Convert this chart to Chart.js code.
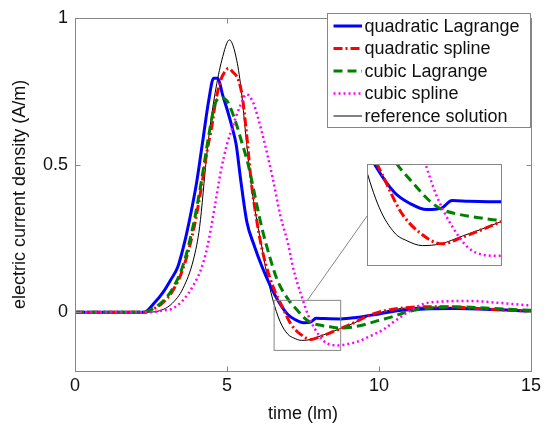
<!DOCTYPE html>
<html>
<head>
<meta charset="utf-8">
<script src="https://cdn.jsdelivr.net/npm/chart.js@4.4.0/dist/chart.umd.min.js"></script>
<style>
  html, body { margin: 0; padding: 0; background: #fff; }
  #wrap { position: relative; width: 545px; height: 425px; }
  #main { position: absolute; left: 0; top: 0; }
  #inset { position: absolute; left: 367px; top: 164px; }
</style>
</head>
<body>
<div id="wrap">
  <canvas id="main" width="545" height="425"></canvas>
  <canvas id="inset" width="135" height="102"></canvas>
</div>
<script>
// ── data ─────────────────────────────────────────────────────────
const seriesNames = ["quadratic Lagrange", "quadratic spline", "cubic Lagrange", "cubic spline", "reference solution"];

const qlTime  = [0, 2.28, 2.6, 2.9, 3.15, 3.38, 3.6, 3.8, 4.0, 4.2, 4.4, 4.56, 4.7, 4.85, 5.0, 5.15, 5.3, 5.45, 5.65, 5.9, 6.15, 6.4, 6.7, 7.0, 7.25, 7.52, 7.75, 7.93, 8.2, 8.75, 9.25, 10.0, 10.75, 11.5, 12.5, 13.5, 15];
const qlValue = [0, 0, 0.03, 0.068, 0.11, 0.153, 0.235, 0.33, 0.44, 0.58, 0.72, 0.795, 0.795, 0.74, 0.69, 0.635, 0.57, 0.45, 0.308, 0.225, 0.155, 0.095, 0.035, -0.008, -0.026, -0.036, -0.034, -0.021, -0.022, -0.023, -0.018, -0.006, 0.006, 0.011, 0.012, 0.01, 0.003];

const qsTime  = [0, 2.3, 2.6, 2.9, 3.2, 3.55, 3.9, 4.15, 4.35, 4.5, 4.62, 4.8, 4.95, 5.05, 5.2, 5.37, 5.5, 5.65, 5.8, 5.95, 6.15, 6.4, 6.6, 6.8, 7.1, 7.4, 7.77, 8.1, 8.4, 8.75, 9.2, 9.6, 10.0, 10.4, 11.0, 11.6, 12.2, 13.0, 14.0, 15];
const qsValue = [0, 0, 0.012, 0.033, 0.07, 0.147, 0.28, 0.42, 0.55, 0.63, 0.712, 0.79, 0.82, 0.828, 0.815, 0.79, 0.735, 0.6, 0.44, 0.33, 0.215, 0.12, 0.065, 0.022, -0.04, -0.074, -0.093, -0.082, -0.07, -0.055, -0.035, -0.014, 0.0, 0.009, 0.016, 0.018, 0.018, 0.014, 0.008, 0.003];

const clTime  = [0, 2.3, 2.6, 2.9, 3.2, 3.55, 3.9, 4.15, 4.4, 4.6, 4.78, 5.0, 5.15, 5.32, 5.45, 5.7, 5.95, 6.15, 6.4, 6.65, 7.0, 7.3, 7.55, 7.75, 8.0, 8.4, 8.75, 9.1, 9.6, 10.0, 10.4, 10.9, 11.5, 12.5, 13.5, 15];
const clValue = [0, 0, 0.014, 0.038, 0.078, 0.158, 0.30, 0.44, 0.60, 0.705, 0.729, 0.718, 0.685, 0.635, 0.59, 0.50, 0.38, 0.285, 0.19, 0.11, 0.045, 0.008, -0.02, -0.035, -0.043, -0.05, -0.054, -0.051, -0.04, -0.028, -0.017, 0.0, 0.012, 0.018, 0.014, 0.006];

const csTime  = [0, 2.5, 2.9, 3.2, 3.55, 3.9, 4.15, 4.35, 4.6, 4.8, 5.0, 5.2, 5.43, 5.64, 5.86, 6.03, 6.2, 6.5, 6.75, 7.0, 7.2, 7.44, 7.66, 7.88, 8.2, 8.65, 9.0, 9.3, 9.7, 10.16, 10.5, 10.92, 11.46, 12.1, 13.0, 14.0, 15];
const csValue = [0, 0, 0.006, 0.012, 0.04, 0.092, 0.147, 0.22, 0.36, 0.48, 0.57, 0.635, 0.70, 0.74, 0.712, 0.657, 0.59, 0.457, 0.33, 0.236, 0.14, 0.059, -0.008, -0.055, -0.1, -0.113, -0.108, -0.1, -0.082, -0.058, -0.032, -0.002, 0.028, 0.036, 0.038, 0.031, 0.022];

const refTime  = [0, 2.45, 2.9, 3.2, 3.55, 3.9, 4.1, 4.33, 4.45, 4.61, 4.83, 5.08, 5.32, 5.48, 5.6, 5.8, 6.0, 6.15, 6.3, 6.5, 6.75, 7.0, 7.2, 7.45, 7.75, 8.1, 8.4, 8.75, 9.2, 9.6, 10.0, 10.5, 11.0, 11.6, 12.2, 13.0, 14.0, 15];
const refValue = [0, 0, 0.009, 0.03, 0.08, 0.18, 0.29, 0.53, 0.635, 0.745, 0.856, 0.925, 0.856, 0.745, 0.62, 0.43, 0.30, 0.22, 0.135, 0.045, -0.033, -0.075, -0.088, -0.096, -0.093, -0.08, -0.069, -0.055, -0.036, -0.016, -0.002, 0.009, 0.015, 0.017, 0.017, 0.013, 0.007, 0.003];

const xTicks = [0, 5, 10, 15];
const yTicks = [0, 0.5, 1];
const zoomTime  = [6.55, 8.74];   // magnified window
const zoomValue = [-0.13, 0.04];

// ── styling ──────────────────────────────────────────────────────
const FONT   = "'Liberation Sans', Arial, Helvetica, sans-serif";
const FS     = 18;
const AXIS   = "#868686";
const TEXT   = "#111";
const INSET  = { left: 367, top: 164, w: 135, h: 102 };

const styles = [
  { color: "#0000ff", width: 3,   dash: [],            order: 4 },
  { color: "#ff0000", width: 3,   dash: [9, 3, 2, 3],  order: 3 },
  { color: "#008000", width: 3,   dash: [9, 5],        order: 2 },
  { color: "#ff00ff", width: 2.5, dash: [2, 3],        order: 1 },
  { color: "#000000", width: 1,   dash: [],            order: 5 },
];

const pairs = [[qlTime, qlValue], [qsTime, qsValue], [clTime, clValue], [csTime, csValue], [refTime, refValue]];

function makeDatasets() {
  return pairs.map(([t, v], i) => ({
    label: seriesNames[i],
    data: t.map((x, k) => ({ x, y: v[k] })),
    borderColor: styles[i].color,
    borderWidth: styles[i].width,
    borderDash: styles[i].dash,
    order: styles[i].order,
    pointRadius: 0,
    fill: false,
    cubicInterpolationMode: "monotone",
  }));
}

// frame, inward ticks, zoom window, connector, legend
const decorations = {
  id: "decorations",
  afterDraw(chart) {
    const { ctx, chartArea: a, scales: { x, y } } = chart;
    const seg = (x1, y1, x2, y2) => { ctx.beginPath(); ctx.moveTo(x1, y1); ctx.lineTo(x2, y2); ctx.stroke(); };
    ctx.save();
    ctx.strokeStyle = AXIS;
    ctx.lineWidth = 1;
    ctx.setLineDash([]);
    const L = Math.round(a.left) + 0.5, R = Math.round(a.right) + 0.5;
    const T = Math.round(a.top) + 0.5,  B = Math.round(a.bottom) + 0.5;
    ctx.strokeRect(L, T, R - L, B - T);
    xTicks.forEach(v => {
      const p = Math.round(x.getPixelForValue(v)) + 0.5;
      seg(p, B, p, B - 5); seg(p, T, p, T + 5);
    });
    yTicks.forEach(v => {
      const p = Math.round(y.getPixelForValue(v)) + 0.5;
      seg(L, p, L + 5, p); seg(R, p, R - 5, p);
    });

    // magnified window + connector to inset
    const zx1 = x.getPixelForValue(zoomTime[0]), zx2 = x.getPixelForValue(zoomTime[1]);
    const zy1 = y.getPixelForValue(zoomValue[1]), zy2 = y.getPixelForValue(zoomValue[0]);
    ctx.strokeRect(zx1, zy1, zx2 - zx1, zy2 - zy1);
    seg((zx1 + zx2) / 2, zy1, INSET.left, INSET.top + INSET.h / 2 + 1);

    // legend
    const lx = 327.5, ly = 13.5, lw = 203, lh = 114;
    ctx.fillStyle = "#fff";
    ctx.fillRect(lx, ly, lw, lh);
    ctx.strokeStyle = AXIS;
    ctx.strokeRect(lx, ly, lw, lh);
    ctx.font = FS + "px " + FONT;
    ctx.textBaseline = "middle";
    ctx.textAlign = "left";
    chart.data.datasets.forEach((d, i) => {
      const cy = 26 + i * 22.5;
      ctx.strokeStyle = d.borderColor;
      ctx.lineWidth = d.borderWidth;
      ctx.setLineDash(d.borderDash);
      seg(333.5, cy, 362, cy);
      ctx.setLineDash([]);
      ctx.fillStyle = TEXT;
      ctx.fillText(d.label, 364.5, cy + 1);
    });
    ctx.restore();
  },
};

new Chart(document.getElementById("main"), {
  type: "line",
  data: { datasets: makeDatasets() },
  options: {
    responsive: false,
    animation: false,
    events: [],
    layout: { padding: { top: 10, right: 10, left: 0, bottom: 0 } },
    plugins: { legend: { display: false }, tooltip: { enabled: false } },
    scales: {
      x: {
        type: "linear", min: 0, max: 15,
        afterBuildTicks: s => { s.ticks = xTicks.map(v => ({ value: v })); },
        afterFit: s => { s.height = 54; },
        grid: { display: false, drawTicks: false }, border: { display: false },
        ticks: { color: TEXT, font: { family: FONT, size: FS }, padding: 4, maxRotation: 0 },
        title: { display: true, text: "time (lm)", color: TEXT, font: { family: FONT, size: FS }, padding: { top: 0, bottom: 0 } },
      },
      y: {
        type: "linear", min: -0.2, max: 1,
        afterBuildTicks: s => { s.ticks = yTicks.map(v => ({ value: v })); },
        afterFit: s => { s.width = 75; },
        grid: { display: false, drawTicks: false }, border: { display: false },
        ticks: { color: TEXT, font: { family: FONT, size: FS }, padding: 7, callback: v => String(v) },
        title: { display: true, text: "electric current density (A/m)", color: TEXT, font: { family: FONT, size: FS }, padding: { top: 9, bottom: 0 } },
      },
    },
  },
  plugins: [decorations],
});

// ── magnified inset ──────────────────────────────────────────────
const insetFrame = {
  id: "insetFrame",
  beforeDraw(chart) {
    const { ctx, width, height } = chart;
    ctx.save(); ctx.fillStyle = "#fff"; ctx.fillRect(0, 0, width, height); ctx.restore();
  },
  afterDraw(chart) {
    const { ctx, width, height } = chart;
    ctx.save(); ctx.strokeStyle = AXIS; ctx.lineWidth = 1; ctx.setLineDash([]);
    ctx.strokeRect(0.5, 0.5, width - 1, height - 1); ctx.restore();
  },
};

new Chart(document.getElementById("inset"), {
  type: "line",
  data: { datasets: makeDatasets() },
  options: {
    responsive: false,
    animation: false,
    events: [],
    layout: { padding: 0 },
    plugins: { legend: { display: false }, tooltip: { enabled: false } },
    scales: {
      x: { type: "linear", min: zoomTime[0], max: zoomTime[1], display: false },
      y: { type: "linear", min: zoomValue[0], max: zoomValue[1], display: false },
    },
  },
  plugins: [insetFrame],
});
</script>
</body>
</html>
